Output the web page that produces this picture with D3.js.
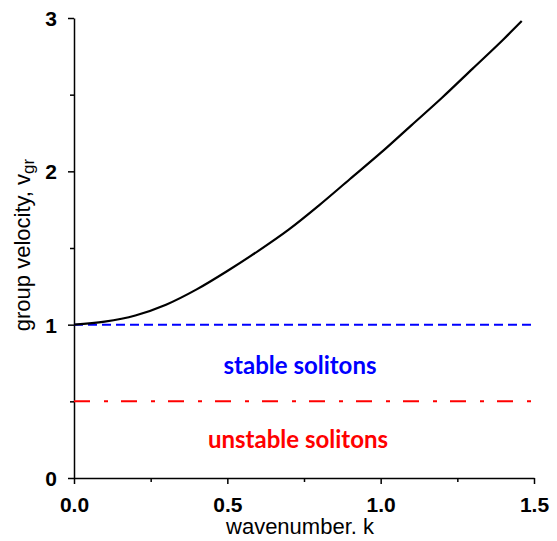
<!DOCTYPE html>
<html><head><meta charset="utf-8">
<script src="https://cdn.jsdelivr.net/npm/d3@7"></script>
<style>body{margin:0;background:#fff}</style>
</head><body>
<svg id="c" width="557" height="541"></svg>
<script>
const kValues = [0, 0.1, 0.2, 0.3, 0.4, 0.5, 0.6, 0.7, 0.8, 0.9, 1.0, 1.1, 1.2, 1.3, 1.4, 1.46];
const vgrValues = [1.00, 1.02, 1.06, 1.13, 1.23, 1.35, 1.48, 1.62, 1.78, 1.95, 2.12, 2.30, 2.48, 2.67, 2.86, 2.98];
const stableLevel = [1.0];
const unstableLevel = [0.5];
const xMajorTicks = [0, 0.5, 1.0, 1.5];
const xMinorTicks = [0.25, 0.75, 1.25];
const yMajorTicks = [0, 1, 2, 3];
const yMinorTicks = [0.5, 1.5, 2.5];
const labels = {x: "wavenumber. k", y: "group velocity, v", ySub: "gr", stable: "stable solitons", unstable: "unstable solitons"};

const svg = d3.select("#c");
const x = d3.scaleLinear().domain([0, 1.5]).range([74, 534]);
const y = d3.scaleLinear().domain([0, 3]).range([478, 18]);

// axes
const xAxis = svg.append("g").attr("transform", `translate(0,${y(0)})`)
  .call(d3.axisBottom(x).tickValues(xMajorTicks).tickFormat(d3.format(".1f")).tickSize(6).tickSizeOuter(0));
svg.append("g").attr("transform", `translate(0,${y(0)})`)
  .call(d3.axisBottom(x).tickValues(xMinorTicks).tickFormat("").tickSize(4).tickSizeOuter(0))
  .select(".domain").remove();
const yAxis = svg.append("g").attr("transform", `translate(${x(0)},0)`)
  .call(d3.axisLeft(y).tickValues(yMajorTicks).tickFormat(d3.format("d")).tickSize(6).tickSizeOuter(0));
svg.append("g").attr("transform", `translate(${x(0)},0)`)
  .call(d3.axisLeft(y).tickValues(yMinorTicks).tickFormat("").tickSize(4).tickSizeOuter(0))
  .select(".domain").remove();

svg.selectAll(".domain, .tick line").attr("stroke", "#000").attr("stroke-width", 1.5);
xAxis.selectAll("text").attr("font-family", "Liberation Sans, Arial, sans-serif")
  .attr("font-weight", "bold").attr("font-size", 21).attr("fill", "#000").attr("y", 0).attr("dy", 0)
  .attr("transform", "translate(0,34)");
yAxis.selectAll("text").attr("font-family", "Liberation Sans, Arial, sans-serif")
  .attr("font-weight", "bold").attr("font-size", 21).attr("fill", "#000").attr("x", -17).attr("dy", "0.36em");

// reference lines
svg.append("line").attr("x1", x(0)).attr("x2", x(1.5)).attr("y1", y(stableLevel[0])).attr("y2", y(stableLevel[0]))
  .attr("stroke", "#0000ff").attr("stroke-width", 2).attr("stroke-dasharray", "9,5");
svg.append("line").attr("x1", x(0)).attr("x2", x(1.5)).attr("y1", y(unstableLevel[0])).attr("y2", y(unstableLevel[0]))
  .attr("stroke", "#ff0000").attr("stroke-width", 2).attr("stroke-dasharray", "16,14,4,13");

// curve
const line = d3.line().x((d, i) => x(kValues[i])).y(d => y(d)).curve(d3.curveMonotoneX);
svg.append("path").datum(vgrValues).attr("d", line).attr("fill", "none")
  .attr("stroke", "#000").attr("stroke-width", 2.2);

// annotations
svg.append("text").attr("x", 300).attr("y", 374).attr("text-anchor", "middle")
  .attr("font-family", "Lato, Open Sans, sans-serif").attr("font-weight", "bold").attr("font-size", 24)
  .attr("fill", "#0000ff").text(labels.stable);
svg.append("text").attr("x", 298).attr("y", 448).attr("text-anchor", "middle")
  .attr("font-family", "Lato, Open Sans, sans-serif").attr("font-weight", "bold").attr("font-size", 24)
  .attr("fill", "#ff0000").text(labels.unstable);

// axis titles
svg.append("text").attr("x", 300).attr("y", 534).attr("text-anchor", "middle")
  .attr("font-family", "Liberation Sans, Arial, sans-serif").attr("font-size", 22).attr("fill", "#000")
  .text(labels.x);
const yt = svg.append("text").attr("transform", `translate(30,245) rotate(-90)`).attr("text-anchor", "middle")
  .attr("font-family", "Liberation Sans, Arial, sans-serif").attr("font-size", 22).attr("fill", "#000");
yt.append("tspan").text(labels.y);
yt.append("tspan").attr("dy", 4).attr("font-size", 17).text(labels.ySub);
</script>
</body></html>
